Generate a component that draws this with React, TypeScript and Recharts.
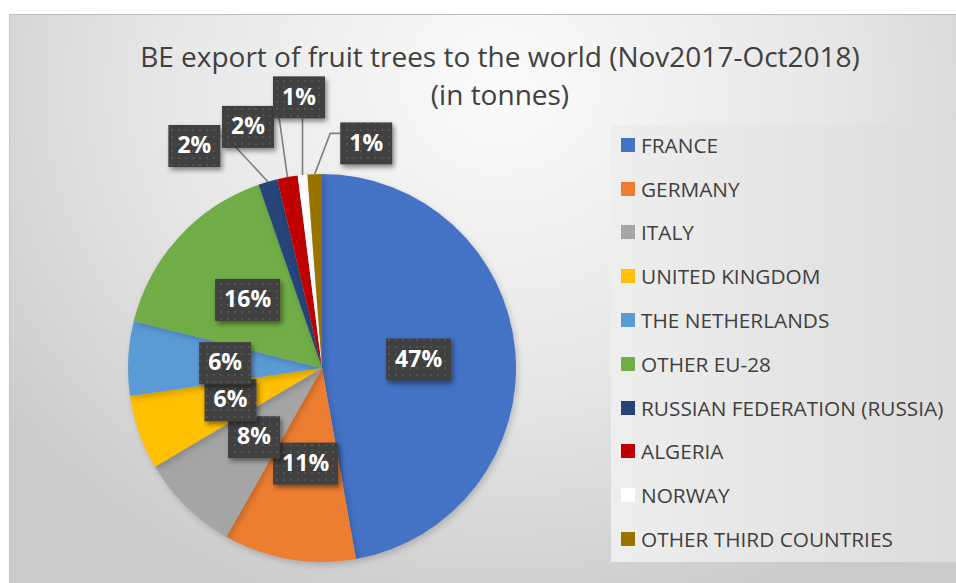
import { PieChart, Pie, Cell, Legend } from "recharts"

const CATEGORIES = [
  "FRANCE", "GERMANY", "ITALY", "UNITED KINGDOM", "THE NETHERLANDS",
  "OTHER EU-28", "RUSSIAN FEDERATION (RUSSIA)", "ALGERIA", "NORWAY", "OTHER THIRD COUNTRIES",
]
const SHARES = [47.2, 11.0, 8.3, 6.2, 6.2, 15.8, 1.6, 1.7, 0.8, 1.2]
const COLOURS = [
  "#4472C4", "#ED7D31", "#A5A5A5", "#FFC000", "#5B9BD5",
  "#70AD47", "#264478", "#C00000", "#FFFFFF", "#997300",
]

// best-fit style placement: [clock-angle shift in deg, distance as fraction of radius]
const LABEL_NUDGE: [number, number][] = [
  [0, 0.5], [0, 0.5], [0, 0.5], [0, 0.5], [0, 0.5],
  [0, 0.52], [-13.7, 1.32], [-6.8, 1.3], [0.9, 1.4], [13.3, 1.18],
]

const rows = CATEGORIES.map((name, i) => ({ name, value: SHARES[i] }))

const FONT = "'Open Sans', 'DejaVu Sans', sans-serif"
const RAD = Math.PI / 180

function boxWidth(txt: string) {
  let w = 20
  for (const ch of txt) w += ch === "%" ? 19 : 13
  return w
}

function renderLabel(p: any) {
  const { cx, cy, midAngle, outerRadius, percent, index } = p
  const txt = `${Math.round(percent * 100)}%`
  const clock = 90 - midAngle
  const [shift, frac] = LABEL_NUDGE[index]
  const a = (clock + shift) * RAD
  const r = outerRadius * frac
  const bx = cx + r * Math.sin(a)
  const by = cy - r * Math.cos(a)
  const w = boxWidth(txt)
  const h = 42
  let line = null
  if (frac > 1) {
    const m = clock * RAD
    const px = cx + outerRadius * Math.sin(m)
    const py = cy - outerRadius * Math.cos(m)
    const left = bx - w / 2, right = bx + w / 2, bottom = by + h / 2
    let pts: number[][]
    if (px >= left && px <= right) pts = [[px, py], [px, bottom]]
    else if (px > right) pts = [[px, py], [right + 5, by - 10], [right, by - 10]]
    else pts = [[px, py], [left - 10, by - 10], [left, by - 10]]
    line = <polyline points={pts.map(q => q.join(",")).join(" ")} fill="none" stroke="#7f7f7f" strokeWidth={1.6} />
  }
  return (
    <g key={`lbl-${index}`}>
      {line}
      <rect x={bx - w / 2} y={by - h / 2} width={w} height={h} fill="url(#dotfill)" filter="url(#boxshadow)" />
      <text x={bx} y={by + 1} textAnchor="middle" dominantBaseline="middle" fill="#fff"
        style={{ fontFamily: FONT, fontWeight: 700, fontSize: 23 }}>{txt}</text>
    </g>
  )
}

function LegendBox() {
  return (
    <div style={{ width: 345, height: 437, background: "linear-gradient(90deg, #eeeeee, #dcdcdc)", fontFamily: FONT }}>
      <div style={{ position: "relative", top: -2 }}>
        {rows.map((r, i) => (
          <div key={r.name} style={{ height: 43.8, display: "flex", alignItems: "center", paddingLeft: 10 }}>
            <span style={{ width: 14, height: 14, background: COLOURS[i], display: "inline-block", marginRight: 6 }} />
            <span style={{ fontSize: 20.8, color: "#404040", whiteSpace: "nowrap" }}>{r.name}</span>
          </div>
        ))}
      </div>
    </div>
  )
}

export default function App() {
  return (
    <div style={{ position: "absolute", left: 0, top: 0, width: 956, height: 583, overflow: "hidden", background: "#fff" }}>
      <style>{`.recharts-pie-sector { filter: drop-shadow(2px 3px 3px rgba(0,0,0,0.18)); }`}</style>
      <svg width={0} height={0} style={{ position: "absolute" }}>
        <defs>
          <pattern id="dotfill" width={7} height={7} patternUnits="userSpaceOnUse">
            <rect width={7} height={7} fill="#404040" />
            <rect x={3} y={3} width={2} height={2} fill="#525252" />
          </pattern>
          <filter id="boxshadow" x="-30%" y="-30%" width="160%" height="170%">
            <feDropShadow dx={2} dy={3} stdDeviation={2.5} floodColor="#000" floodOpacity={0.45} />
          </filter>
        </defs>
      </svg>
      <div style={{
        position: "absolute", left: 9, top: 14, width: 960, height: 580,
        borderTop: "1px solid #bdbdbd", borderLeft: "1px solid #c4c4c4",
        background: "radial-gradient(ellipse 620px 560px at 490px 70px, #fbfbfb 0%, #e6e6e6 55%, #cbcbcb 100%)",
      }} />
      <div style={{
        position: "absolute", left: 0, top: 37, width: 1000, textAlign: "center",
        fontFamily: FONT, fontSize: 28, lineHeight: "38px", color: "#404040",
      }}>
        BE export of fruit trees to the world (Nov2017-Oct2018)<br />(in tonnes)
      </div>
      <div style={{ position: "absolute", left: 0, top: 0 }}>
        <PieChart width={956} height={583} margin={{ top: 0, right: 0, bottom: 0, left: 0 }}>
          <Pie data={rows} dataKey="value" nameKey="name" cx={322} cy={368} outerRadius={194}
            startAngle={90} endAngle={-270} stroke="none" label={renderLabel} labelLine={false}
            isAnimationActive={false}>
            {rows.map((r, i) => <Cell key={r.name} fill={COLOURS[i]} />)}
          </Pie>
          <Legend content={() => <LegendBox />}
            wrapperStyle={{ left: 611, top: 125, width: 345, height: 437 }} />
        </PieChart>
      </div>
    </div>
  )
}
